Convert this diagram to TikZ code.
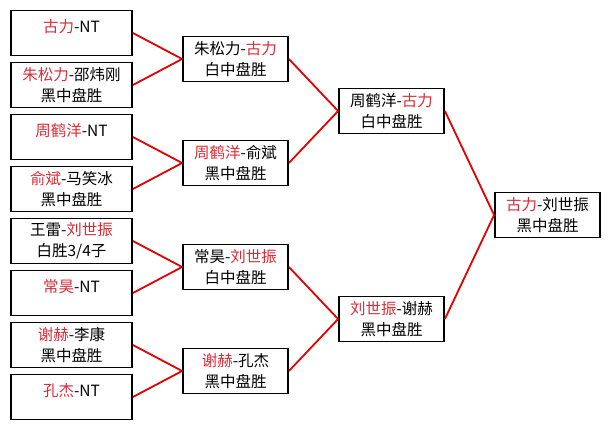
\documentclass[tikz,border=0pt]{standalone}
\usepackage{fontspec}
\setmainfont{Noto Sans CJK SC}
\usetikzlibrary{positioning}

\definecolor{wincol}{RGB}{215,45,55}
\definecolor{linkcol}{RGB}{228,0,0}
\newcommand{\win}[1]{\textcolor{wincol}{#1}}

\tikzset{
  gamebox/.style={draw=black, line width=1.8pt, minimum height=45pt,
                  inner sep=0pt, align=center,
                  font=\fontsize{15.5}{21}\selectfont},
  link/.style={draw=linkcol, line width=1.8pt},
}

\begin{document}
\begin{tikzpicture}[x=1pt, y=-1pt]
  \useasboundingbox (0,0) rectangle (611,429);

  % ======== ROUND 1 (left column) ========
  \foreach \i/\txt in {
      0/{\win{古力}-NT\\[-6pt]\mbox{}},
      1/{\win{朱松力}-邵炜刚\\黑中盘胜},
      2/{\win{周鹤洋}-NT\\[-6pt]\mbox{}},
      3/{\win{俞斌}-马笑冰\\黑中盘胜},
      4/{王雷-\win{刘世振}\\白胜3/4子},
      5/{\win{常昊}-NT\\[-6pt]\mbox{}},
      6/{\win{谢赫}-李康\\黑中盘胜},
      7/{\win{孔杰}-NT\\[-6pt]\mbox{}}} {
    \node[gamebox, minimum width=121pt] (a\i) at (71.5, 33+52*\i) {\txt};
  }

  % ======== ROUND 2 ========
  \foreach \j/\txt in {
      0/{朱松力-\win{古力}\\白中盘胜},
      1/{\win{周鹤洋}-俞斌\\黑中盘胜},
      2/{常昊-\win{刘世振}\\白中盘胜},
      3/{\win{谢赫}-孔杰\\黑中盘胜}} {
    \node[gamebox, minimum width=105pt] (b\j) at (235.5, 59+104*\j) {\txt};
  }

  % ======== ROUND 3 ========
  \node[gamebox, minimum width=105pt] (c0) at (391.5, 111)
    {周鹤洋-\win{古力}\\白中盘胜};
  \node[gamebox, minimum width=105pt] (c1) at (391.5, 319)
    {\win{刘世振}-谢赫\\黑中盘胜};

  % ======== FINAL ========
  \node[gamebox, minimum width=105pt] (d0) at (547.5, 215)
    {\win{古力}-刘世振\\黑中盘胜};

  % ======== CONNECTORS ========
  \foreach \j in {0,...,3} {
    \pgfmathtruncatemacro{\ka}{2*\j}
    \pgfmathtruncatemacro{\kb}{2*\j+1}
    \draw[link] (a\ka.east) -- (b\j.west);
    \draw[link] (a\kb.east) -- (b\j.west);
  }
  \foreach \k in {0,1} {
    \pgfmathtruncatemacro{\ja}{2*\k}
    \pgfmathtruncatemacro{\jb}{2*\k+1}
    \draw[link] (b\ja.east) -- (c\k.west);
    \draw[link] (b\jb.east) -- (c\k.west);
  }
  \draw[link] (c0.east) -- (d0.west);
  \draw[link] (c1.east) -- (d0.west);

\end{tikzpicture}
\end{document}
